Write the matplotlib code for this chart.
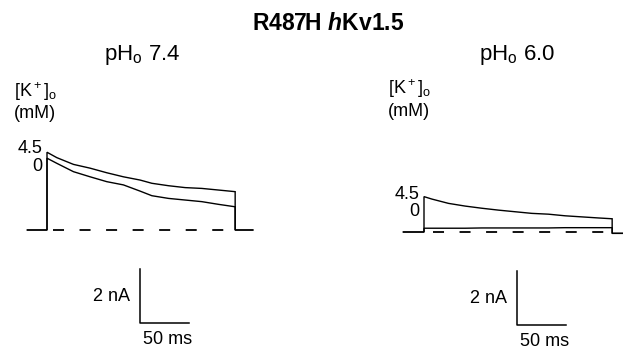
import matplotlib
matplotlib.use("Agg")
import matplotlib.pyplot as plt

# current traces (time in ms from pulse onset, current in nA)
t_74 = [0, 10, 27, 44, 61, 78, 95, 107, 124, 141, 158, 175, 192]
i_74_k45 = [2.88, 2.68, 2.43, 2.29, 2.12, 1.97, 1.85, 1.73, 1.64, 1.57, 1.54, 1.48, 1.42]
i_74_k0 = [2.66, 2.47, 2.16, 1.97, 1.79, 1.67, 1.44, 1.27, 1.17, 1.11, 1.05, 0.95, 0.86]

t_60 = [0, 8, 25, 42, 59, 76, 93, 110, 127, 144, 161, 178, 192]
i_60_k45 = [1.31, 1.22, 1.06, 0.96, 0.88, 0.81, 0.75, 0.69, 0.66, 0.60, 0.56, 0.52, 0.49]
i_60_k0 = [0.14, 0.14, 0.14, 0.14, 0.15, 0.15, 0.15, 0.15, 0.15, 0.16, 0.16, 0.16, 0.16]

pre_60 = [-21, 0]   # holding baseline before the pulse
pre_74 = [-20, 0]
tail_74 = [192, 210]
tail_60 = [192, 205]
tail_i_74 = 0.0
tail_i_60 = -0.05

k_labels = ["4.5", "0"]
ph_labels = ["pH$_\\mathrm{o}$ 7.4", "pH$_\\mathrm{o}$ 6.0"]
bar_ms, bar_na = 50, 2

plt.rcParams["font.family"] = "Liberation Sans"
plt.rcParams["mathtext.fontset"] = "custom"
plt.rcParams["mathtext.rm"] = "Liberation Sans"
plt.rcParams["mathtext.it"] = "Liberation Sans:italic"
plt.rcParams["mathtext.bf"] = "Liberation Sans:bold"
plt.rcParams["mathtext.bfit"] = "Liberation Sans:bold:italic"

W, H = 623, 349
PX_MS = 0.98   # pixels per ms
PX_NA = 27.0   # pixels per nA

fig = plt.figure(figsize=(W / 100, H / 100), dpi=100)
fig.patch.set_facecolor("white")


def make_panel(x_step, y_base, left, right, top, bottom):
    ax = fig.add_axes([left / W, 1 - bottom / H, (right - left) / W, (bottom - top) / H])
    ax.set_xlim((left - x_step) / PX_MS, (right - x_step) / PX_MS)
    ax.set_ylim((y_base - bottom) / PX_NA, (y_base - top) / PX_NA)
    ax.axis("off")
    return ax


def draw_panel(ax, t, hi, lo, pre, tail, tail_i, dash_start, lab_off):
    kw = dict(color="black", lw=1.0, solid_joinstyle="miter")
    for tr in (hi, lo):
        ax.plot([pre[0], pre[1]] + t + [t[-1], tail[1]],
                [0, 0] + tr + [tail_i, tail_i], **kw)
    ax.plot([dash_start, t[-1]], [0, 0], color="black", lw=1.3,
            linestyle=(0, (6.1, 8.6)))
    # scale bar
    x0, y0 = 95, -3.45
    ax.plot([x0, x0, x0 + bar_ms], [y0 + bar_na, y0, y0], color="black", lw=1.1)
    ax.annotate("%d nA" % bar_na, (x0, y0 + bar_na / 2), xytext=(-7, 0),
                textcoords="offset points", ha="right", va="center", fontsize=13)
    ax.annotate("%d ms" % bar_ms, (x0 + bar_ms / 2, y0), xytext=(2, -6),
                textcoords="offset points", ha="center", va="top", fontsize=13)
    # [K+] labels next to the trace starts
    ax.annotate(k_labels[0], (0, hi[0]), xytext=(-3, lab_off[0]), textcoords="offset points",
                ha="right", va="center", fontsize=13)
    ax.annotate(k_labels[1], (0, hi[0]), xytext=(-3, lab_off[1]),
                textcoords="offset points", ha="right", va="center", fontsize=13)


ax1 = make_panel(47, 230, 0, 300, 60, 349)
draw_panel(ax1, t_74, i_74_k45, i_74_k0, pre_74, tail_74, tail_i_74, 6, (2.5, -10))

ax2 = make_panel(424, 232, 320, 623, 60, 349)
draw_panel(ax2, t_60, i_60_k45, i_60_k0, pre_60, tail_60, tail_i_60, 9, (1.5, -11))


def px_text(x, y, s, **kw):
    fig.text(x / W, 1 - y / H, s, **kw)


px_text(328, 23, "R487H $\\mathbfit{h}$Kv1.5", ha="center", va="center",
        fontsize=16.5, fontweight="bold")
px_text(142, 55, ph_labels[0], ha="center", va="center", fontsize=16)
px_text(517, 55, ph_labels[1], ha="center", va="center", fontsize=16)
for cx, cy in [(35, 92), (409, 89)]:
    px_text(cx, cy, "[K$^+$]$_\\mathrm{o}$", ha="center", va="center", fontsize=13)
    px_text(cx, cy + 22, "(mM)", ha="center", va="center", fontsize=13)

fig.savefig("out.png", dpi=100, facecolor="white")
